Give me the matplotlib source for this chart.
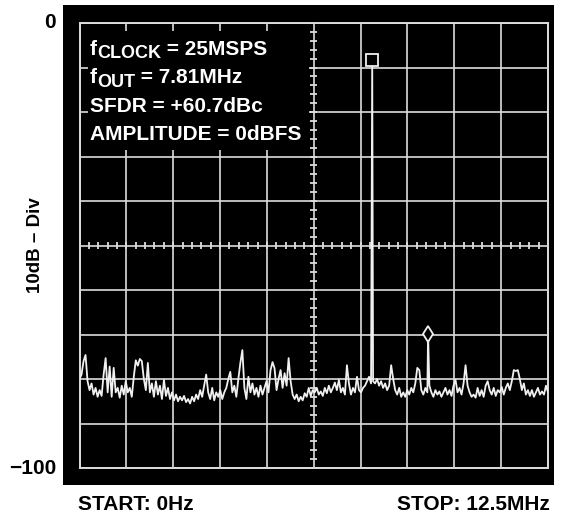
import numpy as np
import matplotlib
matplotlib.use("Agg")
import matplotlib.pyplot as plt
from matplotlib.patches import Rectangle

# ---------------- data ----------------
freq_start_mhz = 0.0
freq_stop_mhz = 12.5
ref_top_db = 0
ref_bottom_db = -100

noise_db = [
    -80.0, -79.0, -76.0, -74.6, -80.5, -82.5, -81.0, -83.5, -82.0, -84.0, -82.5, -83.8,
    -79.0, -75.3, -83.0, -77.2, -84.0, -77.5, -83.0, -82.0, -84.2, -81.5, -83.5, -80.5,
    -83.0, -82.0, -84.0, -79.5, -75.8, -77.0, -75.5, -76.0, -80.0, -82.5, -76.4, -83.0,
    -81.0, -84.0, -80.5, -83.5, -81.5, -84.5, -80.2, -83.8, -82.0, -84.5, -83.0, -84.8,
    -83.5, -85.0, -84.0, -84.8, -83.8, -85.2, -84.5, -85.5, -84.0, -85.0, -83.5, -84.5,
    -82.5, -84.0, -81.5, -79.0, -83.0, -84.5, -82.0, -84.8, -83.0, -84.0, -82.5, -84.5,
    -83.0, -82.0, -80.0, -78.4, -83.0, -81.5, -84.0, -80.0, -76.4, -73.5, -82.0, -84.5,
    -79.5, -83.0, -81.0, -83.5, -82.0, -84.0, -81.5, -83.5, -82.0, -80.5, -83.0, -78.0,
    -76.2, -77.6, -82.5, -80.0, -78.0, -82.0, -78.7, -81.5, -75.3, -80.5, -83.5, -84.5,
    -83.5, -85.0, -84.0, -84.8, -83.2, -84.0, -82.0, -83.8, -82.5, -83.0, -82.0, -83.5,
    -82.8, -83.8, -82.0, -83.2, -81.5, -83.0, -82.0, -80.8, -82.5, -80.2, -83.0, -82.0,
    -83.5, -76.9, -81.0, -83.5, -82.0, -83.0, -79.5, -82.5, -83.0, -82.0, -81.5, -80.5,
    -79.5, -81.0, -80.5, -81.0, -80.0, -81.5, -80.5, -82.0, -81.0, -82.5, -81.5, -76.9,
    -80.0, -82.5, -83.5, -82.0, -84.0, -83.0, -84.0, -82.5, -83.5, -82.0, -83.0, -81.0,
    -77.5, -78.0, -82.5, -83.5, -82.0, -83.0, -81.5, -83.0, -84.0, -82.5, -83.5, -82.8,
    -84.0, -83.0, -82.0, -83.5, -82.5, -83.8, -81.5, -80.2, -83.0, -82.0, -83.5, -81.0,
    -76.9, -81.5, -83.0, -84.0, -83.5, -84.2, -82.0, -83.8, -82.5, -84.0, -81.5, -80.5,
    -82.5, -83.5, -82.0, -83.8, -82.5, -83.0, -81.8, -83.5, -82.0, -81.0, -82.5, -80.5,
    -78.0, -78.2, -78.0, -80.0, -82.5, -81.0, -83.5, -82.5, -83.8, -82.5, -84.0, -83.0,
    -82.0, -83.5, -82.8, -83.5, -81.5, -83.0,
]

carrier_freq_mhz = 7.81
carrier_db = -8.4
spur_freq_mhz = 9.30
spur_db = -69.8

info_lines = [
    [("f", "main"), ("CLOCK", "sub"), (" = 25MSPS", "main")],
    [("f", "main"), ("OUT", "sub"), (" = 7.81MHz", "main")],
    [("SFDR = +60.7dBc", "main")],
    [("AMPLITUDE = 0dBFS", "main")],
]
y_top_label = "0"
y_bottom_label = "\u2212100"
y_axis_label = "10dB \u2013 Div"
start_label = "START: 0Hz"
stop_label = "STOP: 12.5MHz"

# ---------------- figure ----------------
W, H, DPI = 562, 515, 100
FONT = ["Liberation Sans", "DejaVu Sans"]
FG = "white"
GRID = "#dcdcdc"
TRACE = "#f0f0f0"

fig = plt.figure(figsize=(W / DPI, H / DPI), dpi=DPI, facecolor="white")

# black instrument screen (behind the axes)
fig.patches.append(Rectangle((63 / W, 1 - 485 / H), (554 - 63) / W, (485 - 5) / H,
                             transform=fig.transFigure, facecolor="black",
                             edgecolor="none", zorder=-5))

gl, gr, gt, gb = 79.5, 548.0, 23.0, 468.0
ax = fig.add_axes([gl / W, 1 - gb / H, (gr - gl) / W, (gb - gt) / H])
ax.set_zorder(1)
ax.set_facecolor("black")
ax.set_xlim(freq_start_mhz, freq_stop_mhz)
ax.set_ylim(ref_bottom_db, ref_top_db)
ax.set_xticks(np.linspace(freq_start_mhz, freq_stop_mhz, 11))
ax.set_yticks(np.linspace(ref_bottom_db, ref_top_db, 11))
ax.tick_params(length=0, labelbottom=False, labelleft=False)
ax.grid(True, color=GRID, linewidth=1.2)
ax.set_axisbelow(True)
for sp in ax.spines.values():
    sp.set_color(GRID)
    sp.set_linewidth(1.4)

# minor ticks on the centre cross
xc = (freq_start_mhz + freq_stop_mhz) / 2
yc = (ref_top_db + ref_bottom_db) / 2
px_per_mhz = (gr - gl) / (freq_stop_mhz - freq_start_mhz)
px_per_db = (gb - gt) / (ref_top_db - ref_bottom_db)
for xm in np.arange(freq_start_mhz, freq_stop_mhz + 1e-6, 0.25):
    ax.plot([xm, xm], [yc - 3.5 / px_per_db, yc + 3.5 / px_per_db], color=GRID,
            lw=1.3, solid_capstyle="butt", zorder=3)
for ym in np.arange(ref_bottom_db, ref_top_db + 1e-6, 2):
    ax.plot([xc - 3.5 / px_per_mhz, xc + 3.5 / px_per_mhz], [ym, ym], color=GRID,
            lw=1.3, solid_capstyle="butt", zorder=3)

# black annotation box that hides the grid behind the text
bx0 = freq_start_mhz + (88 - gl) / px_per_mhz
bx1 = freq_start_mhz + (309 - gl) / px_per_mhz
by0 = ref_top_db - (150 - gt) / px_per_db
by1 = ref_top_db - (31 - gt) / px_per_db
ax.add_patch(Rectangle((bx0, by0), bx1 - bx0, by1 - by0, facecolor="black",
                       edgecolor="none", zorder=2.5))

# trace
noise_freq = np.linspace(freq_start_mhz, freq_stop_mhz, len(noise_db))
f_all = np.concatenate([noise_freq, [carrier_freq_mhz, spur_freq_mhz]])
d_all = np.concatenate([np.array(noise_db), [carrier_db, spur_db]])
order = np.argsort(f_all)
ax.plot(f_all[order], d_all[order], color=TRACE, lw=1.3, zorder=4)
ax.plot([carrier_freq_mhz], [carrier_db], marker="s", ms=8, mfc="black",
        mec=TRACE, mew=1.3, zorder=5)
ax.plot([spur_freq_mhz], [spur_db], marker="d", ms=8.5, mfc="black",
        mec=TRACE, mew=1.3, zorder=5)

# ---------------- text ----------------
fig.canvas.draw()
renderer = fig.canvas.get_renderer()
MAIN, SUB = 15, 13
baselines = [55, 83, 112, 140]
for base, pieces in zip(baselines, info_lines):
    x = 90.0
    for s, kind in pieces:
        size = MAIN if kind == "main" else SUB
        dy = 0 if kind == "main" else 3.5
        t = fig.text(x / W, 1 - (base + dy) / H, s, fontsize=size, color=FG,
                     fontweight="bold", family=FONT, ha="left", va="baseline",
                     zorder=6)
        x += t.get_window_extent(renderer).width

fig.text(50 / W, 1 - 23 / H, y_top_label, fontsize=15, fontweight="bold",
         family=FONT, color="black", ha="center", va="center")
fig.text(56 / W, 1 - 469 / H, y_bottom_label, fontsize=15, fontweight="bold",
         family=FONT, color="black", ha="right", va="center")
fig.text(35 / W, 1 - 245 / H, y_axis_label, fontsize=13.5, fontweight="bold",
         family=FONT, color="black", ha="center", va="center", rotation=90)
fig.text(78 / W, 1 - 510 / H, start_label, fontsize=15, fontweight="bold",
         family=FONT, color="black", ha="left", va="baseline")
fig.text(550 / W, 1 - 510 / H, stop_label, fontsize=15, fontweight="bold",
         family=FONT, color="black", ha="right", va="baseline")

fig.savefig("out.png", dpi=DPI, facecolor="white")
